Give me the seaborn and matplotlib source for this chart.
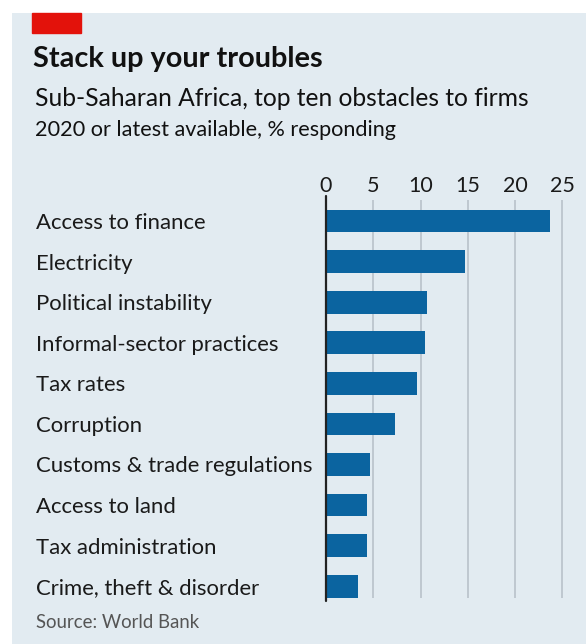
import pandas as pd
import numpy as np
import matplotlib
matplotlib.use("Agg")
import matplotlib.pyplot as plt
import matplotlib.transforms as mtrans
import seaborn as sns

# obstacles, % of firms responding
obstacles = ["Access to finance", "Electricity", "Political instability",
             "Informal-sector practices", "Tax rates", "Corruption",
             "Customs & trade regulations", "Access to land",
             "Tax administration", "Crime, theft & disorder"]
pct = [23.7, 14.7, 10.7, 10.5, 9.6, 7.3, 4.7, 4.3, 4.3, 3.4]
ticks = [0, 5, 10, 15, 20, 25]

df = pd.DataFrame({"obstacle": obstacles, "pct": pct})

sns.set_theme(style="white")
plt.rcParams['font.family'] = ['Lato', 'DejaVu Sans']

bg = "#e2ebf1"
bar_col = "#0b64a0"

fig = plt.figure(figsize=(5.86, 6.44), dpi=100)
W, H = 586, 644

# light panel + red tag
back = fig.add_axes([12 / W, 0, 1 - 12 / W, 1 - 13 / H], zorder=-5)
back.set_facecolor(bg)
back.set_axis_off()
back.add_patch(plt.Rectangle((0, 0), 1, 1, transform=back.transAxes, color=bg))
fig.patches.append(plt.Rectangle((32 / W, 1 - 33 / H), 49 / W, 20 / H, transform=fig.transFigure,
                                 color="#e3120b", zorder=1))

ax = fig.add_axes([326 / W, 1 - 597.5 / H, 241 / W, 397.5 / H], zorder=5)
ax.patch.set_alpha(0)

sns.barplot(data=df, x="pct", y="obstacle", orient="h", color=bar_col,
            width=0.56, saturation=1, linewidth=0, ax=ax, zorder=3)

ax.set_xlim(0, 25.5)
ax.set_ylim(9.28, -0.52)
ax.set_xticks(ticks)
ax.xaxis.tick_top()
ax.tick_params(axis="x", length=0, pad=3, labelsize=15.5, colors="#1a1a1a")
ax.tick_params(axis="y", length=0, pad=0)
ax.set_yticklabels([])
ax.set_xlabel("")
ax.set_ylabel("")
for t in ticks[1:]:
    ax.axvline(t, color="#b8c2ca", lw=1.2, zorder=1)
ax.axvline(0, ymin=-0.01, ymax=1.01, color="#222222", lw=1.6, zorder=4, clip_on=False)
for s in ax.spines.values():
    s.set_visible(False)

# category labels on the left
lab_tr = mtrans.blended_transform_factory(fig.transFigure, ax.transData)
for i, name in enumerate(obstacles):
    ax.text(36 / W, i, name, transform=lab_tr, fontsize=15.9, color="#1a1a1a",
            va="center_baseline", ha="left", clip_on=False)

fig.text(33 / W, 1 - 59 / H, "Stack up your troubles", fontsize=20.8, fontweight="bold",
         color="#111111", va="center", ha="left")
fig.text(35 / W, 1 - 98 / H, "Sub-Saharan Africa, top ten obstacles to firms", fontsize=17.7,
         color="#111111", va="center", ha="left")
fig.text(35 / W, 1 - 130 / H, "2020 or latest available, % responding", fontsize=15.6,
         color="#111111", va="center", ha="left")
fig.text(36 / W, 1 - 622 / H, "Source: World Bank", fontsize=13.4, color="#555555",
         va="center", ha="left")

fig.savefig("out.png", dpi=100)
